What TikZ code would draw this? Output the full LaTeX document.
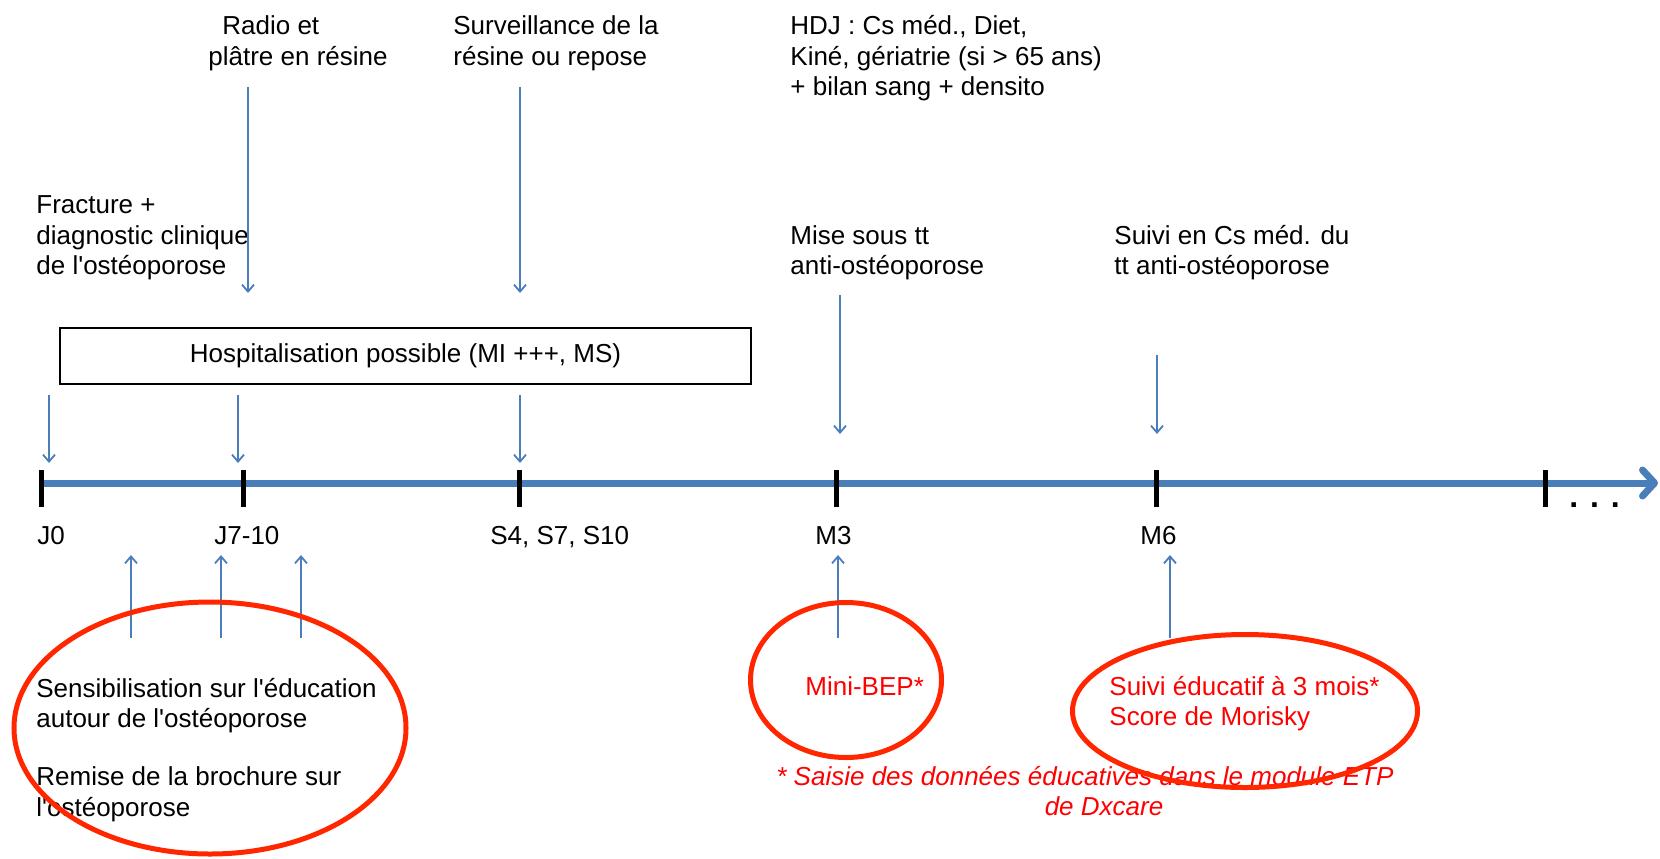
\documentclass[tikz,border=0pt]{standalone}
\usepackage{fontspec}
\setmainfont{Liberation Sans}
\usetikzlibrary{arrows.meta,shapes.geometric}
\definecolor{axisblue}{RGB}{74,126,187}
\definecolor{ellred}{RGB}{255,38,0}
\definecolor{txtred}{RGB}{255,0,0}
\newcommand{\ap}{\textquotesingle}
\begin{document}
\begin{tikzpicture}[x=0.5pt,y=-0.5pt,
  lbl/.style={anchor=north west,inner sep=0pt,align=left,font=\fontsize{13}{15.25}\selectfont},
  redlbl/.style={lbl,text=txtred},
  conn/.style={draw=axisblue,line width=0.9pt,-{Straight Barb[length=3.5pt,width=6pt]}},
  axisline/.style={draw=axisblue,line width=3.5pt,-{Straight Barb[round,length=6pt,width=13pt]}},
  tickmark/.style={draw=black,line width=2.5pt},
  ell/.style={ellipse,draw=ellred,line width=2.5pt,inner sep=0pt}]
\useasboundingbox (0,0) rectangle (1660,858);

% top labels
\node[lbl] (radio) at (208,13.15) {\strut\hspace*{7pt}Radio et\\plâtre en résine};
\node[lbl] (surv) at (453,13.15) {\strut Surveillance de la\\résine ou repose};
\node[lbl] (hdj) at (790,13.15) {\strut HDJ : Cs méd., Diet,\\Kiné, gériatrie (si > 65 ans)\\+ bilan sang + densito};
\node[lbl] (fract) at (36,192.15) {\strut Fracture +\\diagnostic clinique\\de l\ap ostéoporose};
\node[lbl] (mise) at (790,222.65) {\strut Mise sous tt\\anti-ostéoporose};
\node[lbl] (suivics) at (1114,222.65) {\strut Suivi en Cs méd. du\\tt anti-ostéoporose};

% hospitalisation box
\node[draw,line width=1pt,minimum width=345.5pt,minimum height=28pt,inner sep=0pt,
  font=\fontsize{13}{15.25}\selectfont] (hosp) at (405.5,356) {Hospitalisation possible (MI +++, MS)};

% axis
\coordinate (t0) at (41,483);
\coordinate (tend) at (1658,483);
\draw[axisline] (t0) -- (tend);
\foreach \x in {41,243.5,519,836,1156,1545.5}
  \draw[tickmark] (\x,470) -- (\x,507);
\node[anchor=base west,inner sep=0pt,font=\fontsize{16}{19}\selectfont\bfseries] (dots) at (1569,507) {. . .};

% axis labels
\node[lbl] (j0) at (37,522.65) {\strut J0};
\node[lbl] (j7) at (214,522.65) {\strut J7-10};
\node[lbl] (s4) at (490,522.65) {\strut S4, S7, S10};
\node[lbl] (m3) at (815,522.65) {\strut M3};
\node[lbl] (m6) at (1140,522.65) {\strut M6};

% down arrows
\coordinate (a1s) at (248,87);   \coordinate (a1e) at (248,293);
\coordinate (a2s) at (520,87);   \coordinate (a2e) at (520,293);
\coordinate (a3s) at (49,395);   \coordinate (a3e) at (49,463);
\coordinate (a4s) at (238,395);  \coordinate (a4e) at (238,463);
\coordinate (a5s) at (520,395);  \coordinate (a5e) at (520,463);
\coordinate (a6s) at (840,295);  \coordinate (a6e) at (840,434);
\coordinate (a7s) at (1157,355); \coordinate (a7e) at (1157,434);
\foreach \i in {1,...,7} \draw[conn] (a\i s) -- (a\i e);

% up arrows
\coordinate (b1s) at (131,638);  \coordinate (b1e) at (131,555);
\coordinate (b2s) at (221,638);  \coordinate (b2e) at (221,555);
\coordinate (b3s) at (301,638);  \coordinate (b3e) at (301,555);
\coordinate (b4s) at (838,638);  \coordinate (b4e) at (838,555);
\coordinate (b5s) at (1170,638); \coordinate (b5e) at (1170,555);
\foreach \i in {1,...,5} \draw[conn] (b\i s) -- (b\i e);

% bottom texts
\node[lbl] (sens) at (36,675.65) {\strut Sensibilisation sur l\ap éducation\\autour de l\ap ostéoporose\\[13.75pt]Remise de la brochure sur\\l\ap ostéoporose};
\node[redlbl] (mini) at (805,673.65) {\strut Mini-BEP*};
\node[redlbl] (suivied) at (1109,673.65) {\strut Suivi éducatif à 3 mois*\\Score de Morisky};
\node[anchor=north,inner sep=0pt,align=center,text=txtred,
  font=\fontsize{13}{15.25}\selectfont\itshape] (foot) at (1085,763.65)
  {\strut * Saisie des données éducatives dans le module ETP\\\hspace*{19pt}de Dxcare};

% ellipses
\node[ell,minimum width=196pt,minimum height=126pt] (e1) at (210,728) {};
\node[ell,minimum width=95.5pt,minimum height=77.5pt] (e2) at (846,680) {};
\node[ell,minimum width=172.5pt,minimum height=76.5pt] (e3) at (1245,711) {};
\end{tikzpicture}
\end{document}
